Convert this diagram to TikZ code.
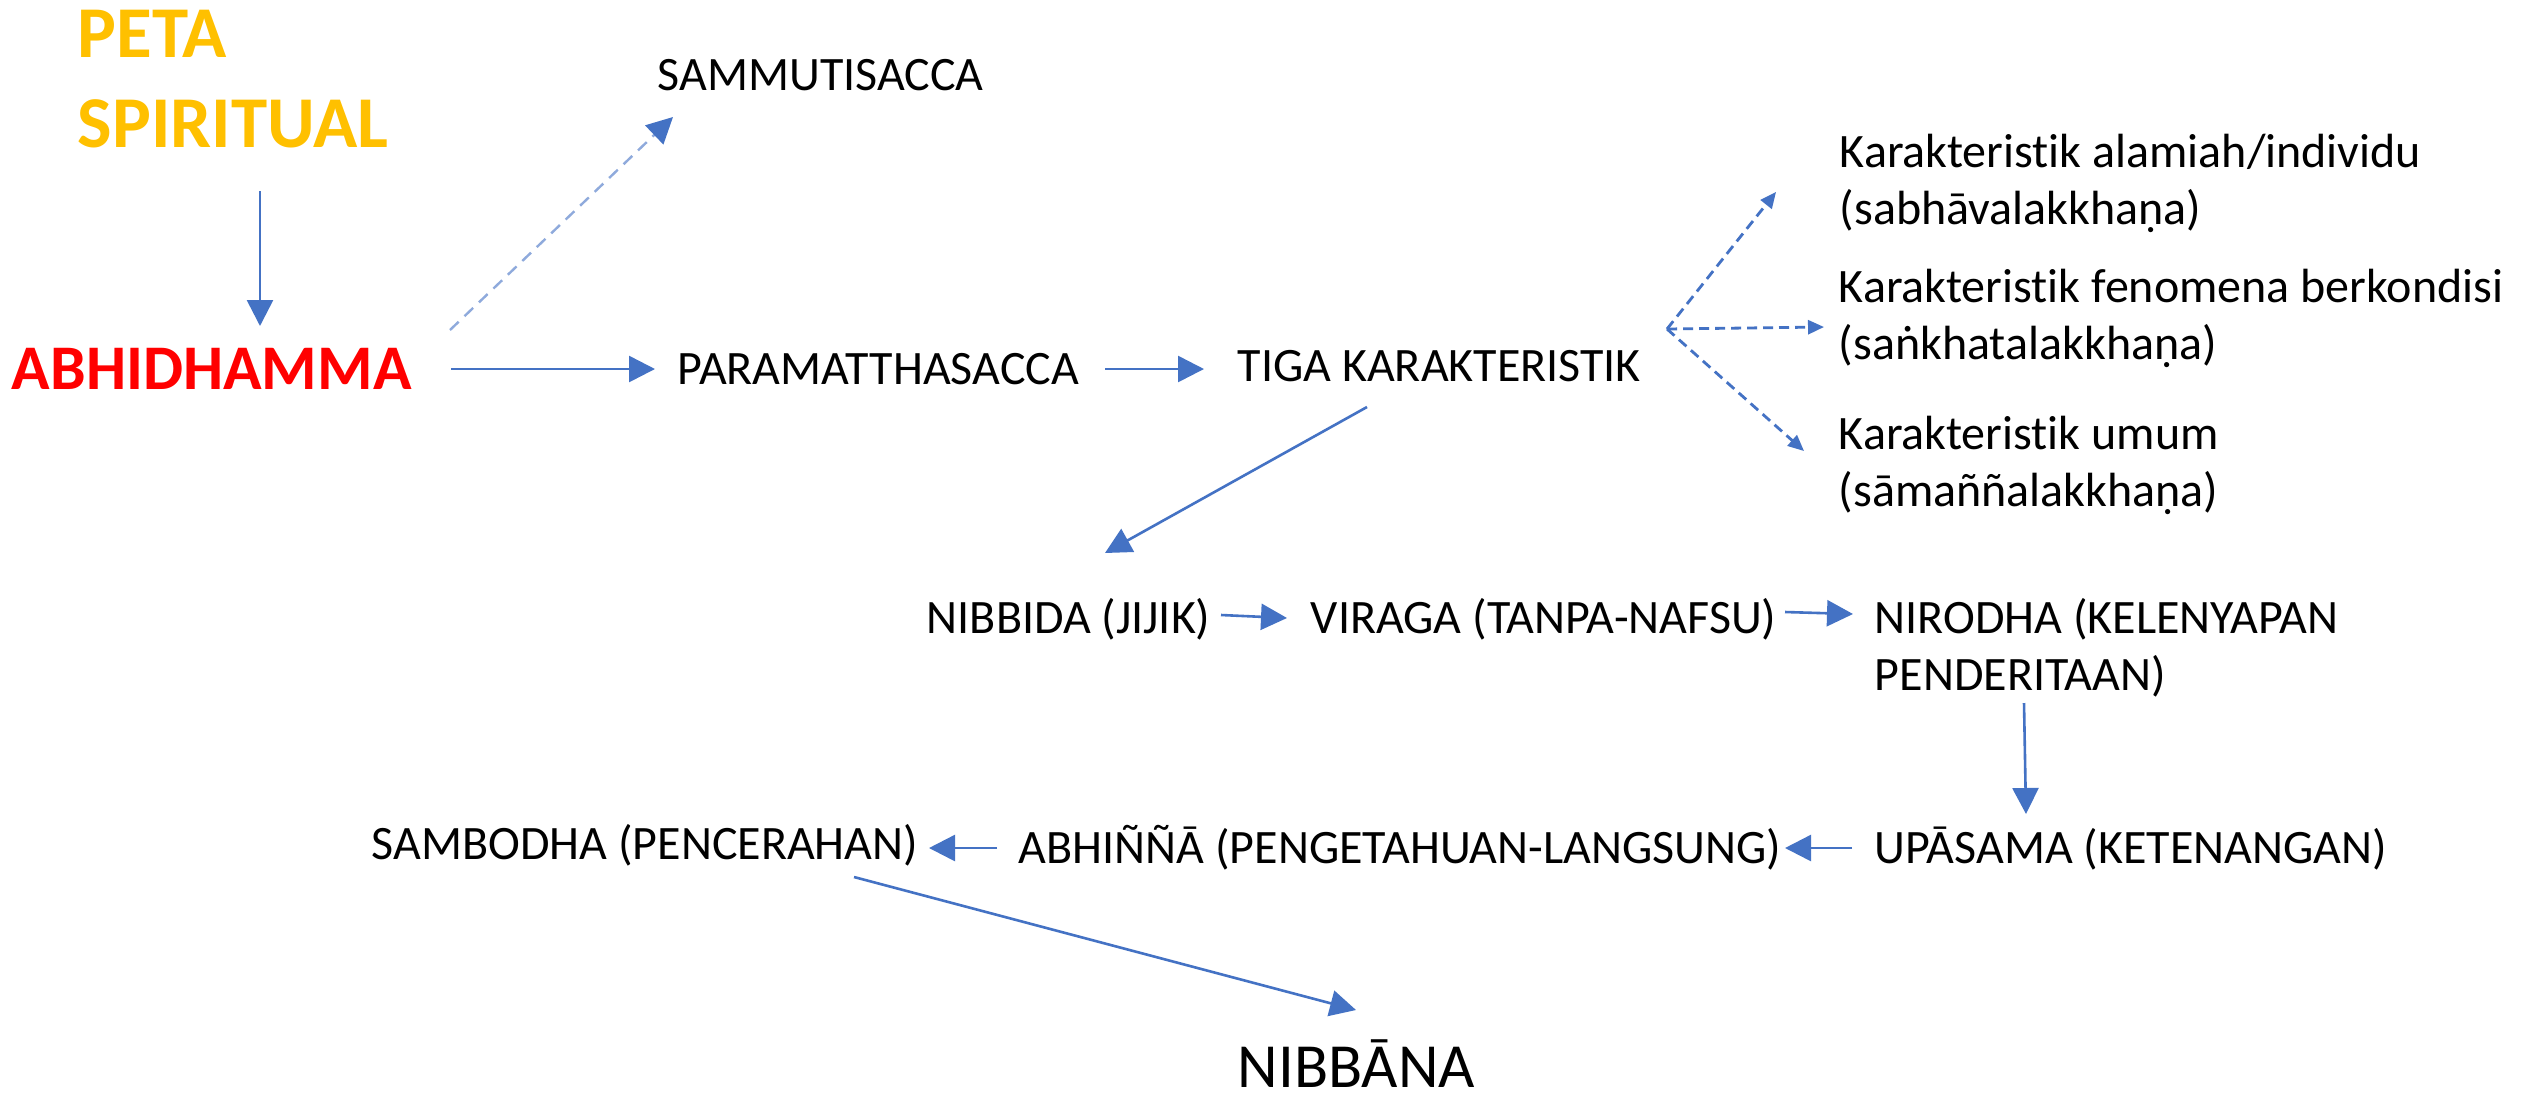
\documentclass[tikz,border=0pt]{standalone}
\usepackage{fontspec}
\setmainfont{Carlito}[Ligatures=NoCommon]
\usetikzlibrary{arrows.meta,calc}
\definecolor{arrowblue}{HTML}{4472C4}
\definecolor{paleblue}{HTML}{8FAADC}
\definecolor{goldtxt}{HTML}{FFC000}
\definecolor{redtxt}{HTML}{FF0000}
\begin{document}
\begin{tikzpicture}[x=0.25pt,y=-0.25pt,
  lbl/.style={anchor=base west, inner sep=0pt, align=left,
    font=\fontsize{12pt}{14.25pt}\selectfont},
  arr/.style={draw=arrowblue, line width=0.65pt,
    -{Triangle[length=6.5pt,width=6.5pt,fill=arrowblue]}},
  darr/.style={draw=arrowblue, line width=0.7pt, dash pattern=on 2.5pt off 1.5pt,
    -{Triangle[length=4pt,width=3.5pt,fill=arrowblue]}},
  parr/.style={draw=paleblue, line width=0.6pt, dash pattern=on 3pt off 2pt,
    -{Triangle[length=6.5pt,width=6.5pt,color=arrowblue,fill=arrowblue]}}]
\useasboundingbox[fill=white] (0,0) rectangle (2526,1094);

% labels (multi-line labels are placed by the baseline of their last line)
\node[lbl, text=goldtxt, font=\fontsize{18.25pt}{22.5pt}\selectfont\bfseries]
  (peta) at (77,147) {PETA\\SPIRITUAL};
\node[lbl, text=redtxt, font=\fontsize{15.9pt}{19pt}\selectfont\bfseries]
  (abh) at (11,389) {ABHIDHAMMA};
\node[lbl] (samm) at (657,90) {SAMMUTISACCA};
\node[lbl] (para) at (677,384) {PARAMATTHASACCA};
\node[lbl] (tiga) at (1237,381) {TIGA KARAKTERISTIK};
\node[lbl] (k1) at (1839,224) {Karakteristik alamiah/individu\\(sabhāvalakkhaṇa)};
\node[lbl] (k2) at (1838,359) {Karakteristik fenomena berkondisi\\(saṅkhatalakkhaṇa)};
\node[lbl] (k3) at (1838,506) {Karakteristik umum\\(sāmaññalakkhaṇa)};
\node[lbl] (nibbida) at (926,633) {NIBBIDA (JIJIK)};
\node[lbl] (viraga) at (1310,633) {VIRAGA (TANPA-NAFSU)};
\node[lbl] (nirodha) at (1874,690) {NIRODHA (KELENYAPAN\\PENDERITAAN)};
\node[lbl] (upa) at (1874,863) {UPĀSAMA (KETENANGAN)};
\node[lbl] (abhinna) at (1018,863) {ABHIÑÑĀ (PENGETAHUAN-LANGSUNG)};
\node[lbl] (samb) at (371,859) {SAMBODHA (PENCERAHAN)};
\node[lbl, font=\fontsize{15.7pt}{18pt}\selectfont] (nibbana) at (1237,1087) {NIBBĀNA};

% connectors
\draw[arr] ($(peta.base west)+(183,44)$) -- ($(abh.base west)+(249,-63)$);
\draw[parr] ($(abh.base west)+(439,-59)$) -- ($(samm.base west)+(16,27)$);
\draw[arr] ($(abh.base west)+(440,-20)$) -- ($(para.base west)+(-22,-15)$);
\draw[arr] ($(para.base west)+(428,-15)$) -- ($(tiga.base west)+(-33,-12)$);
\draw[arr] ($(tiga.base west)+(130,26)$) -- ($(nibbida.base west)+(179,-80)$);

\coordinate (hub) at ($(tiga.base west)+(430,-52)$);
\draw[darr] (hub) -- ($(k1.base west)+(-63,-32)$);
\draw[darr] (hub) -- ($(k2.base west)+(-14,-32)$);
\draw[darr] (hub) -- ($(k3.base west)+(-34,-55)$);

\draw[arr] ($(nibbida.base west)+(295,-18)$) -- ($(viraga.base west)+(-23,-15)$);
\draw[arr] ($(viraga.base west)+(475,-21)$) -- ($(nirodha.base west)+(-21,-76)$);
\draw[arr] ($(nirodha.base west)+(150,13)$) -- ($(upa.base west)+(152,-49)$);
\draw[arr] ($(upa.base west)+(-22,-15)$) -- ($(abhinna.base west)+(767,-15)$);
\draw[arr] ($(abhinna.base west)+(-21,-15)$) -- ($(samb.base west)+(558,-11)$);
\draw[arr] ($(samb.base west)+(483,18)$) -- ($(nibbana.base west)+(119,-77)$);
\end{tikzpicture}
\end{document}
